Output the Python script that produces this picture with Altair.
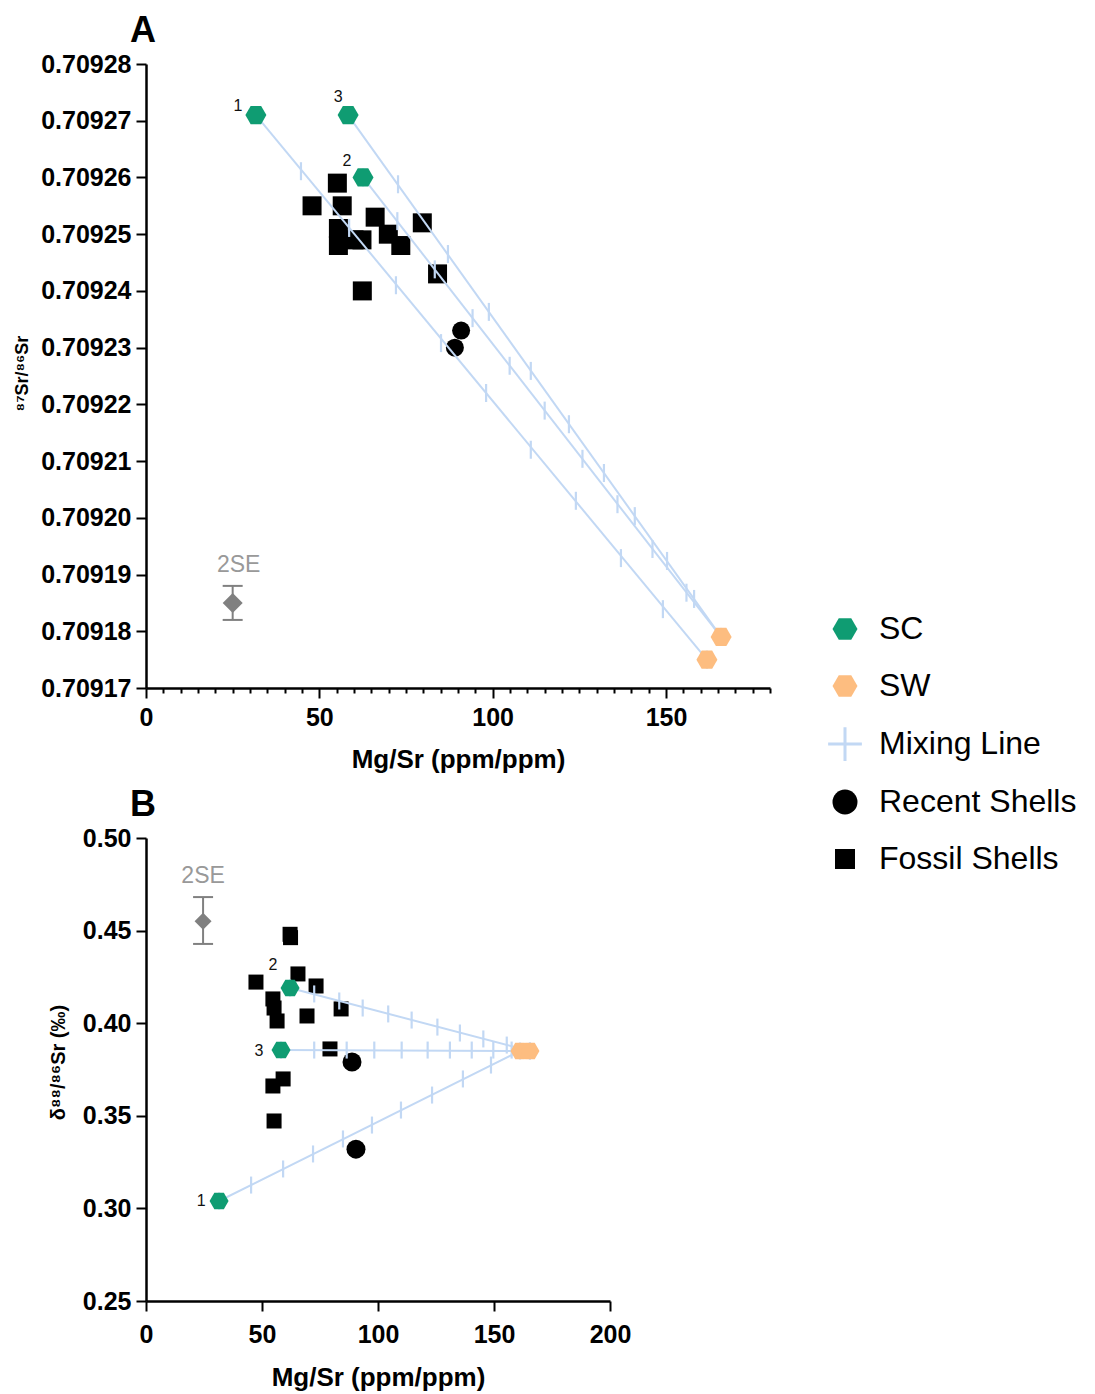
import altair as alt
import pandas as pd

FONT = "Liberation Sans"

# ---------------- Panel A (87Sr/86Sr vs Mg/Sr) ----------------
sc_labels = ["1", "2", "3"]
a_sc_x = [31.7, 62.6, 58.3]
a_sc_y = [0.709271, 0.709260, 0.709271]
a_sw_x = [161.8, 165.9]
a_sw_y = [0.709175, 0.709179]
mix_to_sw = [0, 1, 1]  # SW end-member each SC mixing line goes to

a_fossil_x = [55.2, 47.9, 56.6, 66.1, 79.7, 55.5, 55.5, 60.0, 62.3, 69.9, 73.5, 84.1, 62.4]
a_fossil_y = [0.709259, 0.709255, 0.709255, 0.709253, 0.709252, 0.709251, 0.709248,
              0.709249, 0.709249, 0.709250, 0.709248, 0.709243, 0.709240]
a_recent_x = [90.9, 89.1]
a_recent_y = [0.709233, 0.709230]

a_tick_x = [[44.7, 58.6, 72.1, 85.1, 98.1, 111.0, 124.0, 137.0, 149.1],
            [72.5, 83.3, 94.2, 104.9, 115.0, 125.9, 136.0, 146.1, 155.9],
            [72.7, 87.1, 98.9, 111.0, 122.0, 132.1, 141.0, 150.3, 158.1]]
a_tick_y = [[0.7092611, 0.7092511, 0.7092410, 0.7092308, 0.7092220, 0.7092120, 0.7092030, 0.7091929, 0.7091839],
            [0.7092523, 0.7092438, 0.7092352, 0.7092268, 0.7092189, 0.7092104, 0.7092024, 0.7091945, 0.7091868],
            [0.7092588, 0.7092465, 0.7092363, 0.7092259, 0.7092165, 0.7092079, 0.7092003, 0.7091924, 0.7091857]]

a_se = {"x": 25.0, "y": 0.709185, "lo": 0.709182, "hi": 0.709188}
a_x_ticks = [0, 5, 10, 15, 20, 25, 30, 35, 40, 45, 50, 55, 60, 65, 70, 75, 80, 85, 90,
             95, 100, 105, 110, 115, 120, 125, 130, 135, 140, 145, 150, 155, 160, 165,
             170, 175, 180]
a_y_ticks = [0.70917, 0.70918, 0.70919, 0.70920, 0.70921, 0.70922, 0.70923, 0.70924,
             0.70925, 0.70926, 0.70927, 0.70928]

# ---------------- Panel B (d88/86Sr vs Mg/Sr) ----------------
b_sc_x = [31.5, 62.1, 58.2]
b_sc_y = [0.304, 0.419, 0.3855]
b_sw_x = [161.2, 165.5]
b_sw_y = [0.385, 0.385]

b_fossil_x = [62.1, 62.3, 47.4, 65.5, 73.3, 54.7, 55.2, 56.5, 69.4, 84.1, 79.3, 59.1, 54.7, 55.2]
b_fossil_y = [0.448, 0.4462, 0.4222, 0.4266, 0.4201, 0.4131, 0.4082, 0.4012, 0.4039,
              0.4077, 0.3861, 0.3699, 0.3661, 0.3472]
b_recent_x = [88.8, 90.5]
b_recent_y = [0.379, 0.332]

b_tick_x = [[45.3, 59.1, 72.0, 84.9, 97.4, 109.9, 123.3, 136.6, 148.7],
            [72.5, 83.3, 93.4, 104.4, 114.5, 125.6, 135.3, 145.4, 155.5],
            [72.5, 86.5, 98.4, 110.2, 121.4, 131.0, 140.4, 149.7, 157.6]]
b_tick_y = [[0.3126, 0.3213, 0.3294, 0.3375, 0.3450, 0.3531, 0.3612, 0.3699, 0.3774],
            [0.4158, 0.4120, 0.4082, 0.4050, 0.4017, 0.3979, 0.3947, 0.3915, 0.3882],
            [0.3855, 0.3855, 0.3855, 0.3855, 0.3855, 0.3855, 0.3855, 0.3855, 0.3855]]

b_se = {"x": 24.6, "y": 0.455, "lo": 0.4428, "hi": 0.4681}
b_x_ticks = [0, 50, 100, 150, 200]
b_y_ticks = [0.25, 0.30, 0.35, 0.40, 0.45, 0.50]

# ---------------- styling ----------------
cats = ["SC", "SW", "Mixing Line", "Recent Shells", "Fossil Shells"]
cat_colors = ["#0f9c72", "#fdbd80", "#c2d8f4", "#000000", "#000000"]
HEX = "M-1,0L-0.5,-0.866L0.5,-0.866L1,0L0.5,0.866L-0.5,0.866Z"
PLUS = ("M-1.35,-0.12L-0.12,-0.12L-0.12,-1.35L0.12,-1.35L0.12,-0.12L1.35,-0.12L1.35,0.12"
        "L0.12,0.12L0.12,1.35L-0.12,1.35L-0.12,0.12L-1.35,0.12Z")
SQUARE = "M-0.8,-0.8L0.8,-0.8L0.8,0.8L-0.8,0.8Z"
BAR = "M0,-1L0,1"
cat_shapes = [HEX, HEX, PLUS, "circle", SQUARE]
MIX = "#c2d8f4"
GREY = "#808080"

legend = alt.Legend(title=None, orient="none", legendX=683, legendY=549,
                    labelFont=FONT, labelFontSize=32, labelColor="black", labelLimit=0,
                    symbolSize=625, symbolStrokeWidth=0, rowPadding=25,
                    labelOffset=18, padding=0)
color_enc = alt.Color("series:N", scale=alt.Scale(domain=cats, range=cat_colors), legend=legend)
shape_enc = alt.Shape("series:N", scale=alt.Scale(domain=cats, range=cat_shapes), legend=legend)


def build_panel(p):
    xs = alt.Scale(domain=p["xdom"], nice=False, zero=False)
    ys = alt.Scale(domain=p["ydom"], nice=False, zero=False)
    X = alt.X("x:Q", scale=xs, axis=p["xaxis"])
    Y = alt.Y("y:Q", scale=ys, axis=p["yaxis"])
    Ylo = alt.Y("lo:Q", scale=ys, axis=p["yaxis"])
    Yhi = alt.Y("hi:Q", scale=ys, axis=p["yaxis"])

    fossil = pd.DataFrame({"x": p["fossil_x"], "y": p["fossil_y"],
                           "series": ["Fossil Shells"] * len(p["fossil_x"])})
    recent = pd.DataFrame({"x": p["recent_x"], "y": p["recent_y"],
                           "series": ["Recent Shells"] * len(p["recent_x"])})
    ends = pd.DataFrame({"x": p["sc_x"] + p["sw_x"], "y": p["sc_y"] + p["sw_y"],
                         "series": ["SC"] * len(p["sc_x"]) + ["SW"] * len(p["sw_x"])})
    line_rows, tick_rows = [], []
    for i in range(len(p["sc_x"])):
        j = mix_to_sw[i]
        line_rows.append({"line": i, "order": 0, "x": p["sc_x"][i], "y": p["sc_y"][i]})
        line_rows.append({"line": i, "order": 1, "x": p["sw_x"][j], "y": p["sw_y"][j]})
        tick_rows.append({"x": p["sc_x"][i], "y": p["sc_y"][i]})
        tick_rows.append({"x": p["sw_x"][j], "y": p["sw_y"][j]})
        for tx, ty in zip(p["tick_x"][i], p["tick_y"][i]):
            tick_rows.append({"x": tx, "y": ty})
    lines = pd.DataFrame(line_rows)
    ticks = pd.DataFrame(tick_rows)
    se = pd.DataFrame([p["se"]])

    layers = []
    layers.append(alt.Chart(fossil).mark_point(filled=True, opacity=1, size=p["sq_size"], strokeWidth=0)
                  .encode(x=X, y=Y, color=color_enc, shape=shape_enc))
    layers.append(alt.Chart(recent).mark_point(filled=True, opacity=1, size=p["circ_size"], strokeWidth=0)
                  .encode(x=X, y=Y, color=color_enc, shape=shape_enc))
    layers.append(alt.Chart(lines).mark_line(color=MIX, strokeWidth=2)
                  .encode(x=X, y=Y, detail="line:N", order="order:Q"))
    layers.append(alt.Chart(ticks).mark_point(shape=BAR, filled=False, color=MIX, strokeWidth=2.2,
                                              opacity=1, size=p["bar_size"])
                  .encode(x=X, y=Y))
    layers.append(alt.Chart(ends).mark_point(filled=True, opacity=1, size=p["hex_size"], strokeWidth=0)
                  .encode(x=X, y=Y, color=color_enc, shape=shape_enc))
    for i, lab in enumerate(sc_labels):
        dfl = pd.DataFrame({"x": [p["sc_x"][i]], "y": [p["sc_y"][i]], "t": [lab]})
        dx, dy = p["lab_off"][i]
        layers.append(alt.Chart(dfl).mark_text(font=FONT, fontSize=16, color="#111111", dx=dx, dy=dy,
                                               align="center", baseline="middle")
                      .encode(x=X, y=Y, text="t:N"))
    # 2SE
    layers.append(alt.Chart(se).mark_rule(color=GREY, strokeWidth=2)
                  .encode(x=X, y=Ylo, y2="hi:Q"))
    layers.append(alt.Chart(se).mark_tick(color=GREY, thickness=2, size=20, orient="horizontal", opacity=1)
                  .encode(x=X, y=Ylo))
    layers.append(alt.Chart(se).mark_tick(color=GREY, thickness=2, size=20, orient="horizontal", opacity=1)
                  .encode(x=X, y=Yhi))
    layers.append(alt.Chart(se).mark_point(shape="diamond", filled=True, color=GREY, opacity=1,
                                           size=p["dia_size"], strokeWidth=0)
                  .encode(x=X, y=Y))
    layers.append(alt.Chart(se).mark_text(text="2SE", font=FONT, fontSize=23, color="#999999",
                                          dx=p["se_dx"], dy=-14, align="center", baseline="alphabetic")
                  .encode(x=X, y=Yhi))

    return alt.layer(*layers).properties(
        width=p["w"], height=p["h"],
        title=alt.Title(p["title"], anchor="start", frame="group", dx=-16, offset=p["toff"],
                        fontSize=36, fontWeight="bold", font=FONT, color="black"))


a_xaxis = alt.Axis(values=a_x_ticks, title="Mg/Sr (ppm/ppm)",
                   labelExpr="datum.value % 50 === 0 ? datum.label : ''",
                   tickSize={"condition": {"test": "datum.value % 50 === 0", "value": 10}, "value": 5},
                   labelOverlap=False, labelPadding=7, titlePadding=16)
a_yaxis = alt.Axis(values=a_y_ticks, format=".5f", title="⁸⁷Sr/⁸⁶Sr", titleFontSize=18,
                   titleX=-124, titleY=309, titleBaseline="middle", titleAngle=270)
b_xaxis = alt.Axis(values=b_x_ticks, title="Mg/Sr (ppm/ppm)", labelPadding=11, titlePadding=17)
b_yaxis = alt.Axis(values=b_y_ticks, format=".2f", title="δ⁸⁸/⁸⁶Sr (‰)", titleFontSize=20,
                   titleX=-88, titleY=224, titleBaseline="middle", titleAngle=270)

panel_a = build_panel(dict(
    sc_x=a_sc_x, sc_y=a_sc_y, sw_x=a_sw_x, sw_y=a_sw_y, fossil_x=a_fossil_x, fossil_y=a_fossil_y,
    recent_x=a_recent_x, recent_y=a_recent_y, tick_x=a_tick_x, tick_y=a_tick_y, se=a_se,
    xdom=[0, 180], ydom=[0.70917, 0.70928], xaxis=a_xaxis, yaxis=a_yaxis,
    sq_size=564, circ_size=324, hex_size=441, bar_size=324, dia_size=400, se_dx=6,
    lab_off=[(-18, -9), (-16, -16), (-10, -18)], w=624, h=624, title="A", toff=2))

panel_b = build_panel(dict(
    sc_x=b_sc_x, sc_y=b_sc_y, sw_x=b_sw_x, sw_y=b_sw_y, fossil_x=b_fossil_x, fossil_y=b_fossil_y,
    recent_x=b_recent_x, recent_y=b_recent_y, tick_x=b_tick_x, tick_y=b_tick_y, se=b_se,
    xdom=[0, 200], ydom=[0.25, 0.50], xaxis=b_xaxis, yaxis=b_yaxis,
    sq_size=352, circ_size=361, hex_size=361, bar_size=289, dia_size=289, se_dx=0,
    lab_off=[(-18, 0), (-17, -23), (-22, 1)], w=464, h=463, title="B", toff=2))

chart = alt.vconcat(panel_a, panel_b, spacing=150, bounds="flush").resolve_scale(
    color="shared", shape="shared").properties(
    padding={"left": 5, "top": 5, "right": 5, "bottom": 5}
).configure_view(stroke=None).configure_axis(
    domainColor="black", domainWidth=2.5, tickColor="black", tickWidth=2, tickSize=10,
    labelFont=FONT, labelFontSize=25, labelFontWeight="bold", labelColor="black",
    titleFont=FONT, titleFontSize=26, titleFontWeight="bold", titleColor="black",
    grid=False, labelPadding=5, labelFlush=False
)

chart.save("out.html", embed_options={"renderer": "svg", "actions": False})
